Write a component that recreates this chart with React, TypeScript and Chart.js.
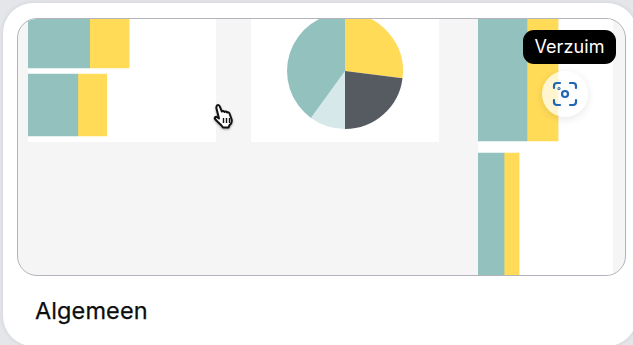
import React, { useEffect, useRef } from "react";
import { Chart, registerables } from "chart.js";

Chart.register(...registerables);

const TEAL = "#93c2be";
const YELLOW = "#ffdb58";
const DARK = "#555b61";
const PALE = "#d6e8ea";

const leftBarCategories = ["Rij 1", "Rij 2"];
const leftBarTeal = [32.8, 26.5];
const leftBarYellow = [21, 15.4];

const pieCategories = ["Geel", "Donker", "Licht", "Groen"];
const pieValues = [27, 23, 10, 40];

const rightBarCategories = ["Rij 1", "Rij 2"];
const rightBarTeal = [36.3, 19.3];
const rightBarYellow = [23, 11.1];

function barConfig(cats: string[], a: number[], b: number[], thickness: number, bottomPad: number): any {
  return {
    type: "bar",
    data: {
      labels: cats,
      datasets: [
        { data: a, backgroundColor: TEAL, borderWidth: 0, barThickness: thickness },
        { data: b, backgroundColor: YELLOW, borderWidth: 0, barThickness: thickness },
      ],
    },
    options: {
      indexAxis: "y",
      animation: false,
      responsive: false,
      layout: { padding: { bottom: bottomPad } },
      plugins: { legend: { display: false }, tooltip: { enabled: false } },
      scales: {
        x: { display: false, stacked: true, min: 0, max: 100 },
        y: { display: false, stacked: true },
      },
    },
  };
}

function pieConfig(): any {
  return {
    type: "pie",
    data: {
      labels: pieCategories,
      datasets: [{ data: pieValues, backgroundColor: [YELLOW, DARK, PALE, TEAL], borderWidth: 0 }],
    },
    options: {
      animation: false,
      responsive: false,
      plugins: { legend: { display: false }, tooltip: { enabled: false } },
    },
  };
}

function ChartCanvas({ config, left, top, width, height }: any) {
  const ref = useRef<HTMLCanvasElement>(null);
  useEffect(() => {
    const chart = new Chart(ref.current as HTMLCanvasElement, config());
    return () => chart.destroy();
  }, []);
  return (
    <canvas
      ref={ref}
      width={width}
      height={height}
      style={{ position: "absolute", left, top, width, height, display: "block" }}
    />
  );
}

const tile = (left: number, top: number, width: number, height: number): React.CSSProperties => ({
  position: "absolute",
  left,
  top,
  width,
  height,
  background: "#fff",
});

// panel content is offset by its border box origin (17,18) + 1px border
const PX = 18;
const PY = 19;

export default function App() {
  return (
    <div style={{ position: "fixed", inset: 0, overflow: "hidden", background: "#e4e6ea" }}>
      <div
        style={{
          position: "absolute",
          left: 3,
          top: 3,
          width: 634,
          height: 343,
          borderRadius: 30,
          background: "#fff",
          boxShadow: "0 0 4px rgba(170,172,178,.4)",
        }}
      />
      <div
        style={{
          position: "absolute",
          left: 17,
          top: 18,
          width: 607,
          height: 256,
          border: "1px solid #b3b3bb",
          borderRadius: 20,
          background: "#f5f5f5",
          overflow: "hidden",
        }}
      >
        <div style={tile(28 - PX, 0 - PY, 188, 141.5)} />
        <ChartCanvas
          config={() => barConfig(leftBarCategories, leftBarTeal, leftBarYellow, 62, 2)}
          left={28 - PX}
          top={3 - PY}
          width={188}
          height={138}
        />
        <div style={tile(251 - PX, 0 - PY, 188, 141.5)} />
        <ChartCanvas config={pieConfig} left={250.5 - PX} top={13 - PY} width={188} height={116} />
        <div style={tile(478 - PX, 0 - PY, 135, 300)} />
        <ChartCanvas
          config={() => barConfig(rightBarCategories, rightBarTeal, rightBarYellow, 130, 0)}
          left={478 - PX}
          top={5 - PY}
          width={135}
          height={284}
        />
      </div>

      <div
        style={{
          position: "absolute",
          left: 542,
          top: 71,
          width: 46,
          height: 46,
          borderRadius: "50%",
          background: "rgba(255,255,255,.72)",
          boxShadow: "0 2px 8px rgba(0,0,0,.10)",
        }}
      />
      <svg
        style={{ position: "absolute", left: 552, top: 81 }}
        width={26}
        height={26}
        viewBox="0 0 26 26"
        fill="none"
        stroke="#1f66b5"
        strokeWidth={2.2}
        strokeLinecap="round"
        strokeLinejoin="round"
      >
        <path d="M2 7V5a3 3 0 0 1 3-3h3M18 2h3a3 3 0 0 1 3 3v2M24 19v2a3 3 0 0 1-3 3h-3M8 24H5a3 3 0 0 1-3-3v-2" />
        <circle cx={13} cy={13} r={3} />
        <circle cx={7} cy={7.5} r={0.5} />
      </svg>

      <div
        style={{
          position: "absolute",
          left: 523,
          top: 30,
          width: 93,
          height: 34,
          borderRadius: 11,
          background: "#000",
          color: "#fff",
          font: "400 18px Inter, sans-serif",
          letterSpacing: 0.1,
          lineHeight: "34px",
          textAlign: "center",
        }}
      >
        Verzuim
      </div>

      <div
        style={{
          position: "absolute",
          left: 35,
          top: 296,
          font: "400 23.5px Inter, sans-serif",
          WebkitTextStroke: "0.25px #0d0d0d",
          letterSpacing: 0.1,
          lineHeight: "30px",
          color: "#0d0d0d",
        }}
      >
        Algemeen
      </div>

      <svg
        style={{ position: "absolute", left: 212, top: 103, filter: "drop-shadow(0 1px 1px rgba(0,0,0,.35))" }}
        width={26}
        height={28}
        viewBox="0 0 26 28"
      >
        <path
          d="M5 2.5c1-1 2.2-.4 2.7.8l2.2 5.2c1-.7 2-.5 2.6.4.9-.6 2-.4 2.6.6 1-.4 2-.1 2.4 1l2 5.5c.7 2.6-.2 5-2 6.2l-1 2.3H11l-2-2.6c-1.8-1.6-4.5-4-6-6-.7-1.2.5-2.6 2-1.8l2 1.3-2.5-10c-.2-1-.2-2 .5-2.9z"
          fill="#fff"
          stroke="#111"
          strokeWidth={2}
          strokeLinejoin="round"
        />
        <path d="M11.5 15v5M14.5 15v5M17.5 15v5" stroke="#111" strokeWidth={1.4} />
      </svg>
    </div>
  );
}
